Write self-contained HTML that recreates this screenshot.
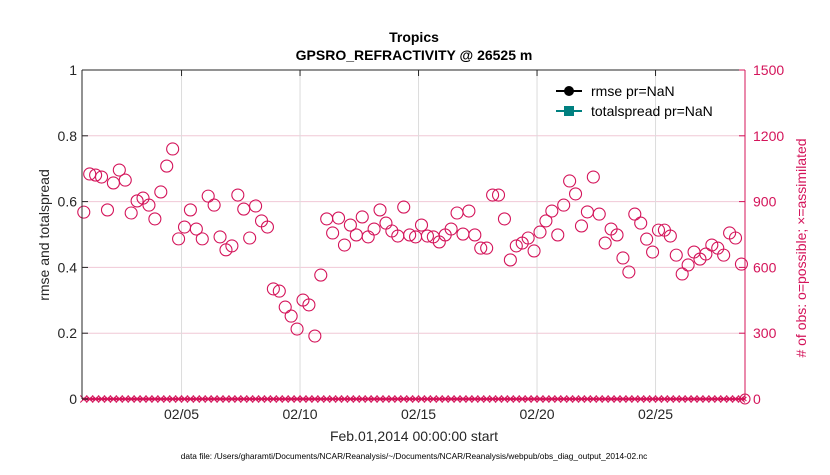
<!DOCTYPE html>
<html><head><meta charset="utf-8"><style>
body{margin:0;background:#fff;}
svg text{font-family:"Liberation Sans",sans-serif;}
</style></head><body>
<svg id="chart" width="830" height="470" xmlns="http://www.w3.org/2000/svg">
<rect width="830" height="470" fill="#fff"/>
<g id="grid"></g>
<g id="marks"></g>
<g id="axes"></g>
<text x="414" y="42" text-anchor="middle" font-size="14" font-weight="bold">Tropics</text>
<text x="414" y="60" text-anchor="middle" font-size="14" font-weight="bold">GPSRO_REFRACTIVITY @ 26525 m</text>
<text x="414" y="441" text-anchor="middle" font-size="14" fill="#262626">Feb.01,2014 00:00:00 start</text>
<text x="414" y="459" text-anchor="middle" font-size="8.3" fill="#000">data file: /Users/gharamti/Documents/NCAR/Reanalysis/~/Documents/NCAR/Reanalysis/webpub/obs_diag_output_2014-02.nc</text>
<text transform="translate(49,235) rotate(-90)" text-anchor="middle" font-size="14" fill="#262626">rmse and totalspread</text>
<text transform="translate(806,248) rotate(-90)" text-anchor="middle" font-size="14" fill="#d4145a"># of obs: o=possible; ×=assimilated</text>
<g>
<line x1="556" y1="91" x2="582" y2="91" stroke="#000" stroke-width="2"/>
<circle cx="569" cy="91" r="5" fill="#000"/>
<text x="591" y="96" font-size="14" fill="#000">rmse pr=NaN</text>
<line x1="556" y1="111" x2="582" y2="111" stroke="#008080" stroke-width="2"/>
<rect x="564" y="106" width="10" height="10" fill="#008080"/>
<text x="591" y="116" font-size="14" fill="#000">totalspread pr=NaN</text>
</g>
</svg>
<script>
const obsPossible=[852,1026,1021,1012,862,985,1044,998,848,903,916,884,821,944,1062,1140,730,784,862,775,730,925,884,739,680,698,930,866,734,880,812,784,502,492,419,378,319,
451,429,287,565,821,757,825,702,793,748,830,739,775,862,802,766,743,875,748,739,793,743,739,716,748,775,848,752,857,748,688,688,930,930,821,634,698,711,
734,675,761,812,857,748,884,994,935,789,853,1012,843,711,775,748,643,579,843,802,729,670,770,770,743,656,570,611,670,638,661,702,688,656,757,734,615];
const obsAssimilated=obsPossible.map(()=>0);
const leftTicks=[0,0.2,0.4,0.6,0.8,1];
const leftTickLabels=["0","0.2","0.4","0.6","0.8","1"];
const rightTicks=[0,300,600,900,1200,1500];
const dateTicks=[4,9,14,19,24];
const dateLabels=["02/05","02/10","02/15","02/20","02/25"];
const step=0.25, t0=-0.125;

const L=82,R=745,T=70,B=399;
const xMin=-0.2,xMax=27.775;
const xs=d=>L+(d-xMin)/(xMax-xMin)*(R-L);
const yl=v=>B-v*(B-T);
const yr=v=>B-v/1500*(B-T);
const NS="http://www.w3.org/2000/svg";
function mk(parent,tag,attrs){const e=document.createElementNS(NS,tag);for(const k in attrs)e.setAttribute(k,attrs[k]);parent.appendChild(e);return e;}
const grid=document.getElementById('grid'),marks=document.getElementById('marks'),axes=document.getElementById('axes');
const crim="#d4145a";
rightTicks.forEach(v=>{const l=mk(grid,'line',{x1:L,x2:R,y1:yr(v),y2:yr(v),stroke:'#f0c8d6','stroke-width':1});

});
dateTicks.forEach((d,i)=>{const l=mk(grid,'line',{x1:xs(d),x2:xs(d),y1:T,y2:B,stroke:'#dcdcdc','stroke-width':1});


const tk=mk(axes,'line',{x1:xs(d),x2:xs(d),y1:T,y2:T+6,stroke:'#262626'});


const tx=mk(axes,'text',{x:xs(d),y:B+20,'text-anchor':'middle','font-size':14,fill:'#262626'});tx.textContent=dateLabels[i];

});
const al=mk(marks,'line',{x1:L,x2:R,y1:yr(0),y2:yr(0),stroke:crim,'stroke-width':2.5});


obsAssimilated.forEach((v,i)=>{
 [0,0.5].forEach(off=>{const x=xs(t0+(i+off)*step),y=yr(v),s=off?2:3.5;
 const p=mk(marks,'path',{d:`M${x-s},${y-s}L${x+s},${y+s}M${x-s},${y+s}L${x+s},${y-s}`,stroke:crim,'stroke-width':1,fill:'none'});
 
 });
});
obsPossible.forEach((v,i)=>{const c=mk(marks,'circle',{cx:xs(t0+i*step),cy:yr(v),r:6,fill:'none',stroke:crim,'stroke-width':1.1});

});
const ce=mk(marks,'circle',{cx:R,cy:B,r:5,fill:'none',stroke:crim,'stroke-width':1.1});


const la=mk(axes,'line',{x1:L,x2:L,y1:T,y2:B,stroke:'#262626'});


const ta=mk(axes,'line',{x1:L,x2:R,y1:T,y2:T,stroke:'#262626'});


const ra=mk(axes,'line',{x1:R,x2:R,y1:T,y2:B,stroke:crim});


leftTicks.forEach((v,i)=>{const tk=mk(axes,'line',{x1:L,x2:L+6,y1:yl(v),y2:yl(v),stroke:'#262626'});


const t=mk(axes,'text',{x:L-5,y:yl(v)+5,'text-anchor':'end','font-size':14,fill:'#262626'});t.textContent=leftTickLabels[i];

});
rightTicks.forEach(v=>{const tk=mk(axes,'line',{x1:R-6,x2:R,y1:yr(v),y2:yr(v),stroke:crim});


const t=mk(axes,'text',{x:R+8,y:yr(v)+5,'font-size':14,fill:crim});t.textContent=String(v);

});
</script>
</body></html>
